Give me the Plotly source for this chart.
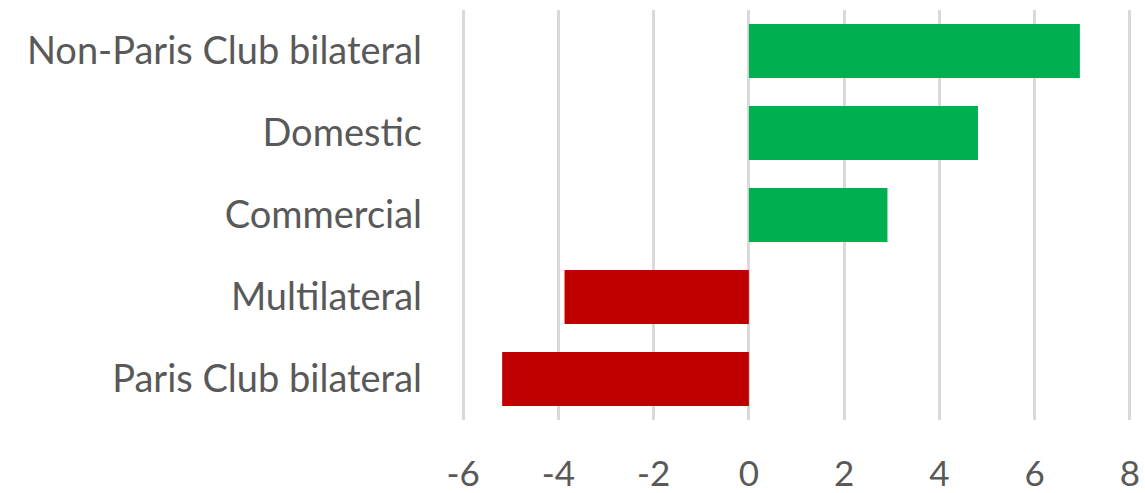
import plotly.graph_objects as go

categories = ["Non-Paris Club bilateral", "Domestic", "Commercial", "Multilateral", "Paris Club bilateral"]
values = [6.95, 4.81, 2.91, -3.87, -5.18]
x_ticks = [-6, -4, -2, 0, 2, 4, 6, 8]

GREEN = "#00B050"
RED = "#C00000"
TEXT = "#595959"
GRID = "#D9D9D9"

colors = [GREEN if v > 0 else RED for v in values]

fig = go.Figure(go.Bar(
    x=values, y=categories, orientation="h",
    marker=dict(color=colors, line=dict(width=0)),
    width=0.66,
))

fig.update_layout(
    width=1145, height=493,
    margin=dict(l=460, r=12, t=10, b=73),
    paper_bgcolor="white", plot_bgcolor="white",
    showlegend=False,
    font=dict(family="Lato", color=TEXT, size=34),
    xaxis=dict(
        range=[-6.065, 8.065], tickvals=x_ticks, ticktext=[str(t) for t in x_ticks],
        showgrid=True, gridcolor=GRID, gridwidth=3,
        zeroline=True, zerolinecolor=GRID, zerolinewidth=3,
        showline=False, ticks="", ticklabelstandoff=30,
        tickfont=dict(family="Lato", size=35, color=TEXT),
        automargin=False,
        fixedrange=True,
    ),
    yaxis=dict(
        autorange="reversed", showgrid=False, zeroline=False, showline=False,
        ticks="", ticklabelstandoff=37,
        tickfont=dict(family="Lato", size=38, color=TEXT),
        automargin=False,
        fixedrange=True,
    ),
)

fig.write_html("out.html")
